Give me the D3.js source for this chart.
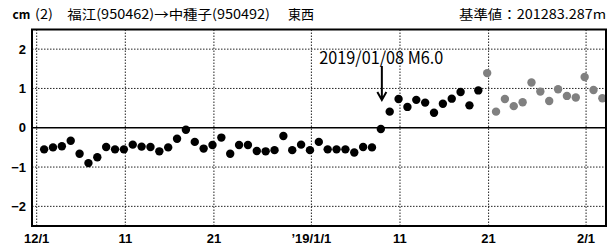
<!DOCTYPE html>
<html lang="ja">
<head>
<meta charset="utf-8">
<title>福江→中種子 東西</title>
<script src="https://cdn.jsdelivr.net/npm/d3@7"></script>
<style type="text/css">
  body { margin: 0; background: #fff; }
  text { font-family: 'Noto Sans CJK JP', 'Liberation Sans', sans-serif; }
  .tick-label { font-family: 'Liberation Sans', sans-serif; font-size: 13px; font-weight: bold; }
</style>
</head>
<body>
<div id="chart"></div>
<script>

/* Data */
/* ==== */

var startDay = '2018-12-02';   // first daily solution

// 2018/12/02 - 2019/01/20 (black)
var valuesBefore = [
  -0.55, -0.50, -0.47, -0.33, -0.66, -0.90, -0.75, -0.49, -0.55, -0.55,
  -0.43, -0.48, -0.49, -0.60, -0.50, -0.28, -0.05, -0.36, -0.53, -0.44,
  -0.25, -0.66, -0.44, -0.44, -0.59, -0.60, -0.57, -0.21, -0.57, -0.43,
  -0.57, -0.36, -0.55, -0.55, -0.55, -0.63, -0.49, -0.50, -0.03, 0.41,
  0.73, 0.53, 0.71, 0.64, 0.38, 0.61, 0.74, 0.91, 0.57, 0.95
];

// 2019/01/21 - 2019/02/03 (grey, rapid solutions)
var valuesAfter = [
  1.39, 0.41, 0.73, 0.55, 0.65, 1.15, 0.92, 0.68, 0.98, 0.81, 0.77, 1.29, 0.96, 0.75
];

var xTickDates = ['2018-12-01', '2018-12-11', '2018-12-21', '2019-01-01', '2019-01-11', '2019-01-21', '2019-02-01'];
var xTickLabels = ['12/1', '11', '21', '\u201919/1/1', '11', '21', '2/1'];
var yTicks = [2, 1, 0, -1, -2];
var yTickLabels = ['2', '1', '0', '\u22121', '\u22122'];

var quakeDay = '2019-01-09';
var quakeLabel = '2019/01/08 M6.0';
var titleText = '(2)\u3000福江(950462)→中種子(950492)';
var componentText = '東西';
var baseText = '基準値：201283.287m';


/* Setup */
/* ===== */

var width = 614,
    height = 248,
    plotLeft = 32, plotRight = 606, plotTop = 29.5, plotBottom = 226;

var DAY = 864e5;
var parse = d3.utcParse('%Y-%m-%d');

var svg = d3.select('#chart').append('svg')
    .attr('width', width)
    .attr('height', height);

var t0 = parse('2018-12-01').getTime();
var x = d3.scaleUtc()
    .domain([new Date(t0 - 0.53 * DAY), new Date(t0 + 64.25 * DAY)])
    .range([plotLeft, plotRight]);

var y = d3.scaleLinear()
    .domain([-2.5, 2.5])
    .range([plotBottom, plotTop]);

// points sit slightly left of the day line
function px(date) { return x(new Date(date.getTime() - 0.16 * DAY)); }

var days = d3.utcDay.range(parse(startDay), d3.utcDay.offset(parse(startDay), valuesBefore.length + valuesAfter.length));
var points = valuesBefore.map(function(v, i) { return { date: days[i], value: v, rapid: false }; })
  .concat(valuesAfter.map(function(v, i) { return { date: days[valuesBefore.length + i], value: v, rapid: true }; }));


/* Grid */
/* ==== */

var grid = svg.append('g');

grid.selectAll('.vgrid')
  .data(xTickDates)
  .enter().append('line')
    .attr('x1', function(d) { return x(parse(d)); })
    .attr('x2', function(d) { return x(parse(d)); })
    .attr('y1', plotTop).attr('y2', plotBottom)
    .attr('stroke', '#222')
    .attr('stroke-width', 1)
    .attr('stroke-dasharray', '1.5,1.5');

grid.selectAll('.hgrid')
  .data(yTicks.filter(function(d) { return d !== 0; }))
  .enter().append('line')
    .attr('x1', plotLeft).attr('x2', plotRight)
    .attr('y1', function(d) { return y(d); })
    .attr('y2', function(d) { return y(d); })
    .attr('stroke', '#222')
    .attr('stroke-width', 1)
    .attr('stroke-dasharray', '1.5,1.5');

// zero line
svg.append('line')
  .attr('x1', plotLeft).attr('x2', plotRight)
  .attr('y1', y(0)).attr('y2', y(0))
  .attr('stroke', '#000')
  .attr('stroke-width', 1.5);


/* Points */
/* ====== */

svg.append('g').selectAll('circle')
  .data(points)
  .enter().append('circle')
    .attr('cx', function(d) { return px(d.date); })
    .attr('cy', function(d) { return y(d.value); })
    .attr('r', 4.2)
    .attr('fill', function(d) { return d.rapid ? '#808080' : '#000'; });


/* Frame */
/* ===== */

svg.append('rect')
  .attr('x', plotLeft).attr('y', plotTop)
  .attr('width', plotRight - plotLeft).attr('height', plotBottom - plotTop)
  .attr('fill', 'none')
  .attr('stroke', '#000')
  .attr('stroke-width', 2);


/* Axis labels */
/* =========== */

svg.selectAll('.ylab')
  .data(yTicks)
  .enter().append('text')
    .attr('class', 'tick-label')
    .attr('x', 26)
    .attr('y', function(d) { return y(d) + 4.5; })
    .attr('text-anchor', 'end')
    .text(function(d, i) { return yTickLabels[i]; });

svg.selectAll('.xlab')
  .data(xTickDates)
  .enter().append('text')
    .attr('class', 'tick-label')
    .attr('x', function(d) { return x(parse(d)); })
    .attr('y', 243)
    .attr('text-anchor', 'middle')
    .text(function(d, i) { return xTickLabels[i]; });


/* Earthquake annotation */
/* ===================== */

var qx = px(parse(quakeDay)) + 1;

svg.append('path')
  .attr('d', 'M' + qx + ',66V100M' + (qx - 4.5) + ',92L' + qx + ',100L' + (qx + 4.5) + ',92')
  .attr('fill', 'none')
  .attr('stroke', '#000')
  .attr('stroke-width', 2);

svg.append('text')
  .attr('x', qx - 62.5)
  .attr('y', 63.5)
  .attr('font-family', 'Liberation Mono, monospace')
  .attr('font-size', 17)
  .attr('textLength', 124)
  .attr('lengthAdjust', 'spacingAndGlyphs')
  .text(quakeLabel);


/* Title */
/* ===== */

svg.append('text')
  .attr('x', 12.5).attr('y', 19)
  .attr('font-size', 12)
  .attr('font-weight', 'bold')
  .attr('font-family', 'Liberation Sans, sans-serif')
  .text('cm');

svg.append('text')
  .attr('x', 35).attr('y', 19)
  .attr('font-size', 13)
  .attr('textLength', 235)
  .attr('lengthAdjust', 'spacingAndGlyphs')
  .text(titleText);

svg.append('text')
  .attr('x', 288).attr('y', 19)
  .attr('font-size', 13)
  .text(componentText);

svg.append('text')
  .attr('x', 459).attr('y', 19)
  .attr('font-size', 13)
  .attr('textLength', 147)
  .attr('lengthAdjust', 'spacingAndGlyphs')
  .text(baseText);

</script>
</body>
</html>
